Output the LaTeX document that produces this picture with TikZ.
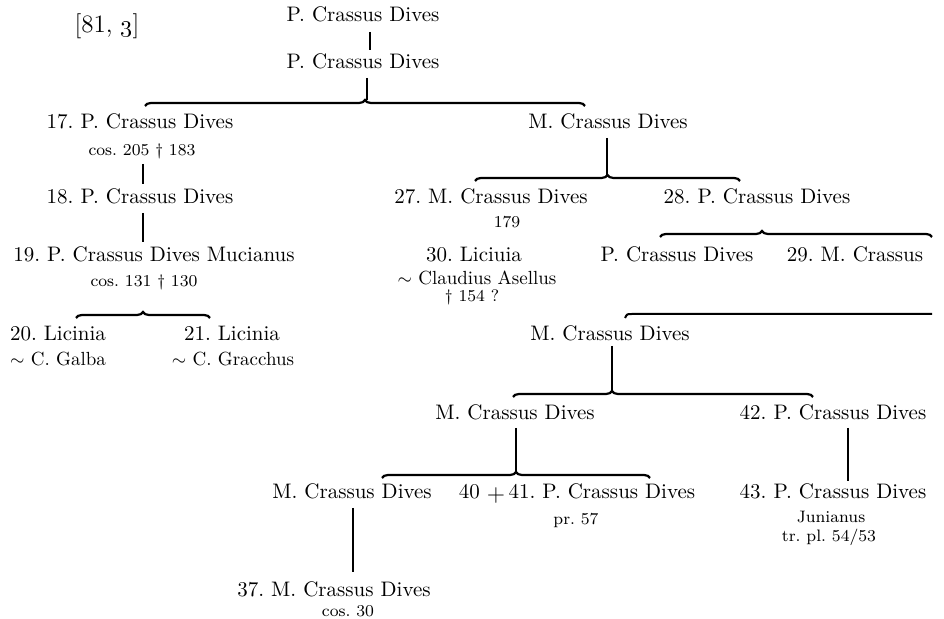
\documentclass[tikz,border=0pt]{standalone}
\usetikzlibrary{positioning,decorations.pathreplacing}
\frenchspacing

\begin{document}
\begin{tikzpicture}[x=0.5pt, y=-0.5pt, every node/.style={inner sep=0pt, anchor=base, font=\fontsize{10.5}{12}\selectfont},
  note/.style={font=\fontsize{8.3}{10}\selectfont},
  wife/.style={font=\fontsize{9.5}{11}\selectfont},
  link/.style={line width=1pt},
  fork/.style={line width=1.1pt, decorate, decoration={brace, amplitude=3pt, aspect=#1}},
  fork/.default=0.5]
  \useasboundingbox (0,0) rectangle (944,619);

  % Generations, top to bottom
  \node (ref) at (107,33) {\fontsize{12.5}{14}\selectfont [81, \oldstylenums{3}]};
  \node (top1) at (363,22) {P. Crassus Dives};
  \node (top2) at (363,69) {P. Crassus Dives};

  \node (p17) at (140,129) {17. P. Crassus Dives};
  \node[note] (n17) at (142,156) {cos. 205 \dag\ 183};
  \node (m0) at (608,129) {M. Crassus Dives};

  \node (p18) at (140,204) {18. P. Crassus Dives};
  \node (p27) at (491,204) {27. M. Crassus Dives};
  \node[note] (n27) at (507,228) {179};
  \node (p28) at (757,204) {28. P. Crassus Dives};

  \node (p19) at (154,262) {19. P. Crassus Dives Mucianus};
  \node[note] (n19) at (144,287) {cos. 131 \dag\ 130};
  \node (p30) at (474,262) {30. Liciuia};
  \node[wife] (w30) at (477,285) {$\sim$ Claudius Asellus};
  \node[note] (n30) at (472,302) {\dag\ 154 ?};
  \node (pP) at (677,262) {P. Crassus Dives};
  \node (p29) at (855,262) {29. M. Crassus};

  \node (p20) at (58,341) {20. Licinia};
  \node[wife] (w20) at (58,366) {$\sim$ C. Galba};
  \node (p21) at (232,341) {21. Licinia};
  \node[wife] (w21) at (233,366) {$\sim$ C. Gracchus};
  \node (m1) at (610,341) {M. Crassus Dives};

  \node (m2) at (515,420) {M. Crassus Dives};
  \node (p42) at (833,420) {42. P. Crassus Dives};

  \node (m3) at (352,499) {M. Crassus Dives};
  \node (p41) at (577,499) {40 \raisebox{-1.5pt}{\large$+$}\,41. P. Crassus Dives};
  \node[note] (n41) at (576,525) {pr. 57};
  \node (p43) at (833,499) {43. P. Crassus Dives};
  \node[note] (n43) at (831,523) {Junianus};
  \node[note] (t43) at (829,542) {tr. pl. 54/53};

  \node (p37) at (334,597) {37. M. Crassus Dives};
  \node[note] (n37) at (348,617) {cos. 30};

  % Forks: ends of each brace and the point it rises to
  \coordinate (f1a) at (145,106); \coordinate (f1b) at (585,106); \coordinate (f1) at (367,100);
  \coordinate (f2a) at (475,181); \coordinate (f2b) at (740,181); \coordinate (f2) at (607,175);
  \coordinate (f3a) at (660,237); \coordinate (f3b) at (932,237);
  \coordinate (f6a) at (76,318);  \coordinate (f6b) at (210,318);
  \coordinate (f4a) at (513,397); \coordinate (f4b) at (813,397); \coordinate (f4) at (612,391);
  \coordinate (f5a) at (382,478); \coordinate (f5b) at (650,478); \coordinate (f5) at (516,472);
  \coordinate (h29) at (932,314);

  \draw[fork] (f1a) -- (f1b);
  \draw[fork] (f2a) -- (f2b);
  \draw[fork=0.375] (f3a) -- (f3b);
  \draw[fork] (f6a) -- (f6b);
  \draw[fork=0.33] (f4a) -- (f4b);
  \draw[fork] (f5a) -- (f5b);
  \draw[link] (h29) -- (632,314) .. controls (627,314) .. (625,318);

  % Lines of descent
  \draw[link, shorten <=4.5pt, shorten >=2pt] ([xshift=3.5pt]top1.south) -- ([xshift=3.5pt]top2.north);
  \draw[link, shorten <=4pt] (top2.south -| f1) -- (f1);
  \draw[link, shorten <=2pt, shorten >=2.5pt] ([xshift=.5pt]n17.south) -- ([xshift=.5pt]n17.south |- p18.north);
  \draw[link, shorten <=4pt, shorten >=2.3pt] ([xshift=1.5pt]p18.south) -- ([xshift=1.5pt]p18.south |- p19.north);
  \draw[link, shorten <=4pt] (m0.south -| f2) -- (f2);
  \draw[link, shorten <=2pt] (m1.south -| f4) -- (f4);
  \draw[link, shorten <=3.5pt] (m2.south -| f5) -- (f5);
  \draw[link, shorten <=3.5pt, shorten >=1.3pt] ([xshift=7.5pt]p42.south) -- ([xshift=7.5pt]p42.south |- p43.north);
  \draw[link, shorten <=4pt, shorten >=4.8pt] ([xshift=.5pt]m3.south) -- ([xshift=.5pt]m3.south |- p37.north);
\end{tikzpicture}
\end{document}
